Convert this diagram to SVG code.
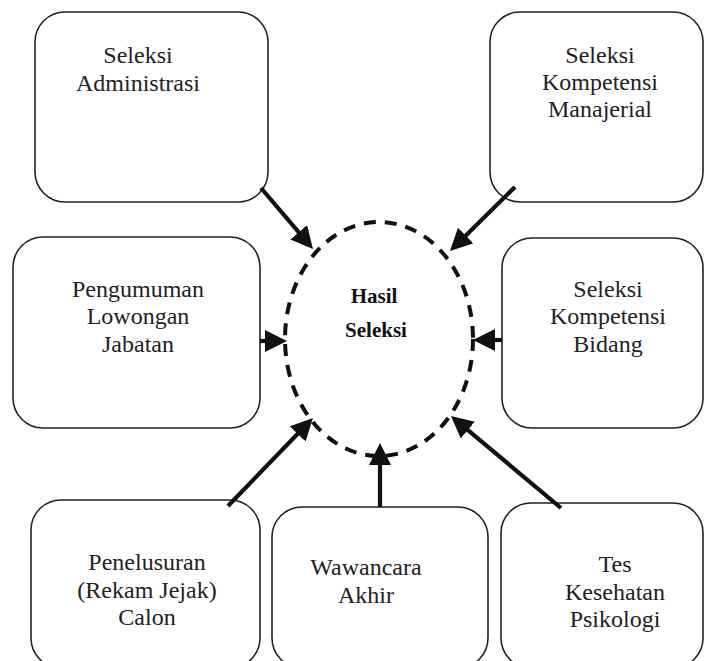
<svg xmlns="http://www.w3.org/2000/svg" width="705" height="661" viewBox="0 0 705 661">
<style>
.box{fill:#fff;stroke:#222;stroke-width:1.6}
.t{font-size:24px;fill:#222;text-anchor:middle}
.tb{font-size:21px;font-weight:bold;fill:#111;text-anchor:middle}
.arr{stroke:#111;stroke-width:4.2;fill:none;marker-end:url(#ah)}
.circ{fill:none;stroke:#111;stroke-width:4;stroke-dasharray:12 9}
</style>
<defs>
<marker id="ah" markerUnits="userSpaceOnUse" viewBox="0 0 22 22" refX="14" refY="11" markerWidth="22" markerHeight="22" orient="auto">
<path d="M0,0 L22,11 L0,22 Z" fill="#111"/>
</marker>
</defs>
<rect width="705" height="661" fill="#fff"/>
<g font-family="Liberation Serif, Tinos, DejaVu Serif, serif">
<g id="hasil">
<ellipse class="circ" cx="379" cy="339" rx="94" ry="117"/>
<text class="tb" x="374" y="303">Hasil</text>
<text class="tb" x="376" y="337">Seleksi</text>
</g>
<g id="administrasi">
<rect class="box" x="35" y="12" width="233" height="190" rx="30"/>
<text class="t" x="138" y="63">Seleksi</text>
<text class="t" x="138" y="91">Administrasi</text>
</g>
<g id="manajerial">
<rect class="box" x="490" y="12" width="213" height="190" rx="30"/>
<text class="t" x="600" y="63">Seleksi</text>
<text class="t" x="600" y="90">Kompetensi</text>
<text class="t" x="600" y="117">Manajerial</text>
</g>
<g id="pengumuman">
<rect class="box" x="13" y="237" width="247" height="191" rx="30"/>
<text class="t" x="138" y="297">Pengumuman</text>
<text class="t" x="138" y="324">Lowongan</text>
<text class="t" x="138" y="352">Jabatan</text>
</g>
<g id="bidang">
<rect class="box" x="502" y="238" width="201" height="190" rx="30"/>
<text class="t" x="608" y="297">Seleksi</text>
<text class="t" x="608" y="324">Kompetensi</text>
<text class="t" x="608" y="352">Bidang</text>
</g>
<g id="penelusuran">
<rect class="box" x="31" y="500" width="229" height="168" rx="30"/>
<text class="t" x="147" y="570">Penelusuran</text>
<text class="t" x="147" y="598">(Rekam Jejak)</text>
<text class="t" x="147" y="625">Calon</text>
</g>
<g id="wawancara">
<rect class="box" x="272" y="507" width="216" height="161" rx="30"/>
<text class="t" x="366" y="575">Wawancara</text>
<text class="t" x="366" y="603">Akhir</text>
</g>
<g id="tes">
<rect class="box" x="501" y="503" width="202" height="165" rx="30"/>
<text class="t" x="615" y="572">Tes</text>
<text class="t" x="615" y="600">Kesehatan</text>
<text class="t" x="615" y="627">Psikologi</text>
</g>
</g>
<g id="connectors">
<path class="arr" d="M261,188 L307.8,242.9"/>
<path class="arr" d="M515,187 L455.7,245.4"/>
<path class="arr" d="M260,341 L279,341"/>
<path class="arr" d="M502,340 L481,340"/>
<path class="arr" d="M228,506 L307.4,423.8"/>
<path class="arr" d="M380,507 L380,451"/>
<path class="arr" d="M561,508 L457.1,421.1"/>
</g>
</svg>
